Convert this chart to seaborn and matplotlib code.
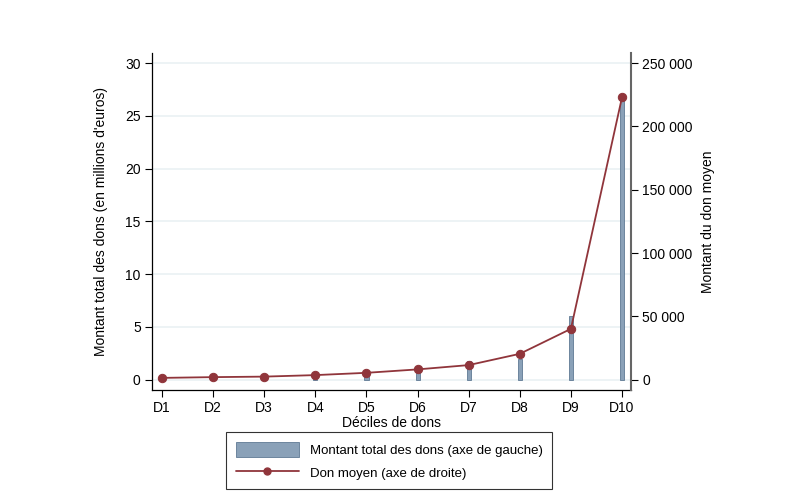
import matplotlib
matplotlib.use("Agg")
import matplotlib.pyplot as plt
from matplotlib.ticker import FuncFormatter
import pandas as pd
import seaborn as sns

deciles = ["D1", "D2", "D3", "D4", "D5", "D6", "D7", "D8", "D9", "D10"]
montant_total = [0.02, 0.03, 0.05, 0.4, 0.65, 0.95, 1.75, 2.0, 6.0, 26.6]  # millions d'euros
don_moyen = [1500, 2100, 2500, 3700, 5500, 8200, 11600, 20500, 40200, 223000]

BAR_COLOR = "#8aa1b8"
BAR_EDGE = "#5f7a94"
LINE_COLOR = "#90353b"

df = pd.DataFrame({"decile": deciles, "total": montant_total, "moyen": don_moyen})
df["pos"] = range(len(df))

sns.set_theme(style="white")
plt.rcParams["font.family"] = ["Liberation Sans", "DejaVu Sans"]
plt.rcParams["font.size"] = 10
plt.rcParams["text.color"] = "black"
plt.rcParams["axes.labelcolor"] = "black"
plt.rcParams["xtick.color"] = "black"
plt.rcParams["ytick.color"] = "black"

fig = plt.figure(figsize=(7.99, 5.01), dpi=100)
ax = fig.add_axes([0.190, 0.222, 0.600, 0.672])

sns.barplot(data=df, x="decile", y="total", ax=ax, width=0.08, color=BAR_COLOR,
            edgecolor=BAR_EDGE, linewidth=0.6, saturation=1, zorder=2)
ax.set_xlim(-0.2, 9.18)
ax.set_ylim(-0.95, 30.95)
ax.set_yticks([0, 5, 10, 15, 20, 25, 30])
ax.yaxis.grid(True, color="#eaf1f3", linewidth=1.2, zorder=0)
ax.set_axisbelow(True)
ax.set_xlabel("Déciles de dons", fontsize=10, labelpad=1)
ax.set_ylabel("Montant total des dons (en millions d'euros)", fontsize=10, labelpad=12)

ax2 = ax.twinx()
sns.lineplot(data=df, x="pos", y="moyen", ax=ax2, color=LINE_COLOR, marker="o",
             markersize=6, markeredgecolor=LINE_COLOR, linewidth=1.3, sort=False)
ax2.set_ylim(-7886, 257886)
ax2.set_yticks([0, 50000, 100000, 150000, 200000, 250000])
ax2.yaxis.set_major_formatter(FuncFormatter(lambda v, p: f"{int(v):,}".replace(",", " ")))
ax2.set_ylabel("Montant du don moyen", fontsize=10, labelpad=6)
ax2.set_xlabel("")

for a in (ax, ax2):
    a.spines["top"].set_visible(False)
    for s in ("left", "right", "bottom"):
        a.spines[s].set_color("black")
        a.spines[s].set_linewidth(0.9)
    a.tick_params(direction="out", length=5, width=0.8, color="black", labelcolor="black",
                  labelsize=10, pad=3)
ax.spines["right"].set_visible(False)
ax2.spines["left"].set_visible(False)
ax2.spines["bottom"].set_visible(False)
ax2.spines["right"].set_color("#666666")
ax2.spines["right"].set_linewidth(1.5)
ax.tick_params(axis="x", bottom=True)
ax.tick_params(axis="y", left=True)
ax2.tick_params(axis="y", right=True)

bar_handle = plt.Rectangle((0, 0), 1, 1, facecolor=BAR_COLOR, edgecolor=BAR_EDGE, linewidth=0.6)
line_handle = plt.Line2D([], [], color=LINE_COLOR, marker="o", markersize=5, linewidth=1.3)
leg = fig.legend([bar_handle, line_handle],
                 ["Montant total des dons (axe de gauche)", "Don moyen (axe de droite)"],
                 loc="center", bbox_to_anchor=(0.487, 0.080), frameon=True, fancybox=False,
                 edgecolor="black", fontsize=9.5, handlelength=4.8, handleheight=1.4,
                 borderpad=0.7, labelspacing=0.6, handletextpad=0.8, borderaxespad=0)
leg.get_frame().set_linewidth(0.8)
for t in leg.get_texts():
    t.set_color("black")

fig.savefig("out.png", dpi=100, facecolor="white")
